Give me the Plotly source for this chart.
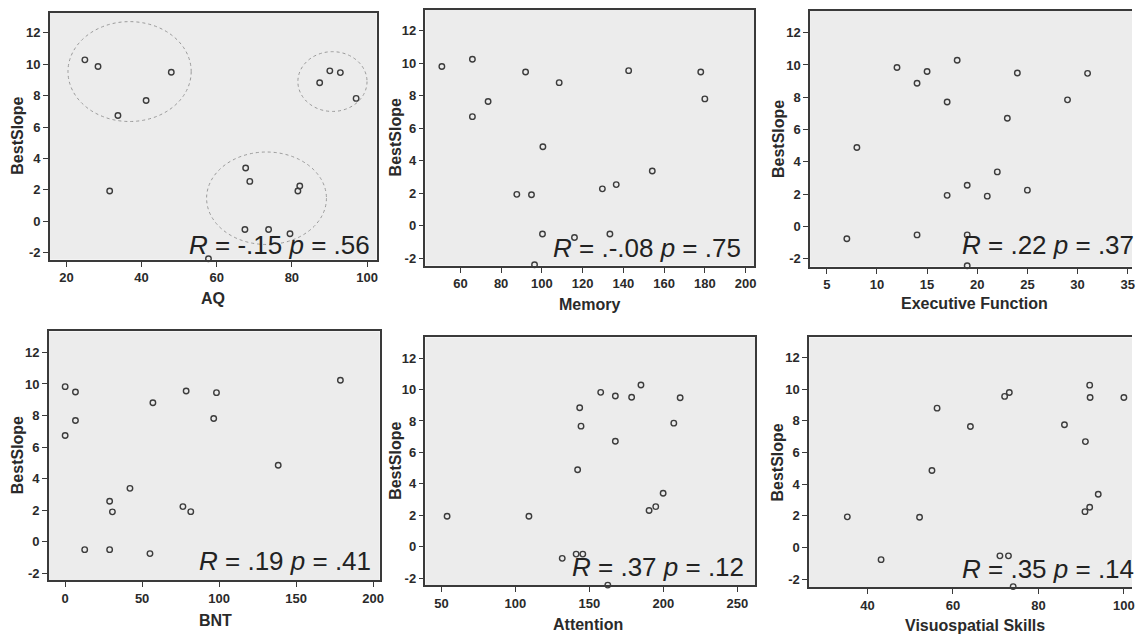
import plotly.graph_objects as go

W, H = 1136, 635

# ---------------- data ----------------
aq_x = [24.9, 28.4, 33.7, 41.2, 47.9, 31.5, 67.7, 68.8, 67.5, 73.8, 79.5, 81.6, 82.1, 57.8, 87.4, 90.1, 92.9, 97.1]
aq_y = [10.27, 9.85, 6.73, 7.69, 9.48, 1.93, 3.39, 2.54, -0.52, -0.52, -0.79, 1.93, 2.25, -2.38, 8.81, 9.57, 9.46, 7.82]

memory_x = [50.9, 65.9, 65.9, 73.6, 92.0, 108.5, 100.5, 87.7, 94.9, 100.3, 96.4, 116.0, 129.7, 136.5, 133.4, 142.6, 154.2, 178.0, 180.0]
memory_y = [9.79, 10.24, 6.71, 7.64, 9.46, 8.80, 4.86, 1.93, 1.91, -0.51, -2.40, -0.72, 2.27, 2.53, -0.51, 9.54, 3.37, 9.46, 7.80]

exec_x = [7, 8, 12, 14, 15, 14, 17, 17, 18, 19, 19, 19, 21, 22, 23, 24, 25, 29, 31]
exec_y = [-0.76, 4.89, 9.84, 8.87, 9.59, -0.52, 7.71, 1.93, 10.29, 2.55, -0.52, -2.43, 1.88, 3.38, 6.70, 9.50, 2.25, 7.84, 9.48]

bnt_x = [0, 0, 6.7, 6.7, 12.7, 28.9, 30.7, 28.9, 42.1, 55.1, 57.0, 56.8, 78.6, 76.5, 81.6, 96.5, 98.3, 138.4, 178.8]
bnt_y = [9.83, 6.73, 9.49, 7.68, -0.51, 2.56, 1.89, -0.51, 3.38, -0.76, 8.81, -2.45, 9.55, 2.22, 1.90, 7.81, 9.45, 4.84, 10.24]

attention_x = [53.8, 109.1, 131.6, 141.0, 145.5, 162.4, 143.4, 144.3, 142.0, 157.6, 167.5, 167.5, 178.5, 184.8, 211.3, 207.0, 199.8, 194.8, 190.3]
attention_y = [1.94, 1.94, -0.74, -0.47, -0.47, -2.44, 8.84, 7.67, 4.90, 9.82, 9.59, 6.71, 9.51, 10.29, 9.48, 7.86, 3.40, 2.55, 2.30]

visuo_x = [35.3, 43.2, 52.2, 55.1, 56.3, 64.1, 72.1, 73.2, 71.0, 73.0, 74.1, 86.1, 91.0, 92.0, 92.1, 94.0, 92.0, 90.9, 100.0]
visuo_y = [1.94, -0.76, 1.92, 4.87, 8.80, 7.64, 9.54, 9.79, -0.52, -0.52, -2.46, 7.75, 6.69, 10.25, 9.47, 3.37, 2.55, 2.27, 9.47]

x_titles = ["AQ", "Memory", "Executive Function", "BNT", "Attention", "Visuospatial Skills"]
y_title = "BestSlope"
stats_text = ["<i>R</i> = -.15 <i>p</i> = .56", "<i>R</i> = .-.08 <i>p</i> = .75", "<i>R</i> = .22 <i>p</i> = .37",
              "<i>R</i> = .19 <i>p</i> = .41", "<i>R</i> = .37 <i>p</i> = .12", "<i>R</i> = .35 <i>p</i> = .14"]

y_ticks = [-2, 0, 2, 4, 6, 8, 10, 12]
x_ticks = [[20, 40, 60, 80, 100], [60, 80, 100, 120, 140, 160, 180, 200], [5, 10, 15, 20, 25, 30, 35],
           [0, 50, 100, 150, 200], [50, 100, 150, 200, 250], [40, 60, 80, 100]]

# cluster ellipses on AQ panel: (x0, x1, y0, y1) in data units
aq_clusters = [(20.4, 53.2, 6.35, 12.7), (81.6, 100.0, 6.99, 10.79), (57.3, 89.2, -1.47, 4.41)]

# ---------------- layout geometry (pixels) ----------------
panels = [
    dict(L=50, R=378, T=13, B=260, xr=[15.57, 102.57], yr=[-2.43, 13.25], mirror=True),
    dict(L=427, R=757, T=10, B=266, xr=[42.87, 204.3], yr=[-2.45, 13.27], mirror=True),
    dict(L=813, R=1136, T=11, B=267, xr=[3.34, 35.43], yr=[-2.48, 13.34], mirror=False),
    dict(L=49, R=381, T=332, B=581, xr=[-10.6, 204.3], yr=[-2.44, 13.33], mirror=True),
    dict(L=427, R=758, T=338, B=586, xr=[39.2, 262.1], yr=[-2.44, 13.31], mirror=True),
    dict(L=812, R=1136, T=338, B=588, xr=[26.37, 101.9], yr=[-2.49, 13.26], mirror=False),
]
ytitle_pos = [(18, 136), (397, 138), (782, 139), (17, 456), (397, 462), (780, 463)]
xtitle_pos = [(214, 299), (592, 305), (978, 304), (216, 621), (590, 625), (978, 626)]
stat_pos = [("right", 373, 256), ("right", 746, 259), ("left", 963, 256),
            ("right", 374, 573), ("right", 749, 579), ("left", 963, 581)]

xs = [aq_x, memory_x, exec_x, bnt_x, attention_x, visuo_x]
ys = [aq_y, memory_y, exec_y, bnt_y, attention_y, visuo_y]

FONT = "Liberation Sans, Arial, sans-serif"
DARK = "#2a2a2a"

fig = go.Figure()
layout = dict(width=W, height=H, margin=dict(l=0, r=0, t=0, b=0),
              paper_bgcolor="white", plot_bgcolor="#ececec", showlegend=False,
              font=dict(family=FONT, color=DARK))
annotations = []
shapes = []

for i, p in enumerate(panels):
    n = "" if i == 0 else str(i + 1)
    fig.add_trace(go.Scatter(
        x=xs[i], y=ys[i], mode="markers", xaxis="x" + n, yaxis="y" + n,
        marker=dict(symbol="circle-open", size=5.5, color="#3c3c3c", line=dict(width=1.4)),
        cliponaxis=False, hoverinfo="x+y"))
    layout["xaxis" + n] = dict(
        domain=[p["L"] / W, p["R"] / W], range=p["xr"], anchor="y" + n,
        showgrid=False, zeroline=False, showline=True, linecolor="#3a3a3a", linewidth=2,
        mirror=True, ticks="outside", ticklen=5, tickwidth=1, tickcolor="#3a3a3a",
        tickvals=x_ticks[i], ticktext=["<b>%s</b>" % v for v in x_ticks[i]],
        tickfont=dict(family=FONT, size=13, color=DARK))
    layout["yaxis" + n] = dict(
        domain=[1 - p["B"] / H, 1 - p["T"] / H], range=p["yr"], anchor="x" + n,
        showgrid=False, zeroline=False, showline=True, linecolor="#3a3a3a", linewidth=1.5,
        mirror=p["mirror"], ticks="outside", ticklen=5, tickwidth=1, tickcolor="#3a3a3a",
        tickvals=y_ticks, ticktext=["<b>%s</b>" % v for v in y_ticks],
        tickfont=dict(family=FONT, size=13, color=DARK))

    yx, yy = ytitle_pos[i]
    annotations.append(dict(text="<b>%s</b>" % y_title, x=yx / W, y=1 - yy / H, xref="paper", yref="paper",
                            showarrow=False, textangle=-90, xanchor="center", yanchor="middle",
                            font=dict(family=FONT, size=16, color=DARK)))
    tx, ty = xtitle_pos[i]
    annotations.append(dict(text="<b>%s</b>" % x_titles[i], x=tx / W, y=1 - ty / H, xref="paper", yref="paper",
                            showarrow=False, xanchor="center", yanchor="middle",
                            font=dict(family=FONT, size=16, color=DARK)))
    anc, sx, sy = stat_pos[i]
    annotations.append(dict(text=stats_text[i], x=sx / W, y=1 - (sy + 6) / H, xref="paper", yref="paper",
                            showarrow=False, xanchor=anc, yanchor="bottom",
                            font=dict(family=FONT, size=26, color="#222222")))

for (x0, x1, y0, y1) in aq_clusters:
    shapes.append(dict(type="circle", xref="x", yref="y", x0=x0, x1=x1, y0=y0, y1=y1,
                       line=dict(color="#9a9a9a", width=1, dash="dot")))

layout["annotations"] = annotations
layout["shapes"] = shapes
fig.update_layout(**layout)
fig.write_html("out.html", config={"displayModeBar": False},
               post_script="document.body.style.margin='0';document.body.style.overflow='hidden';")
